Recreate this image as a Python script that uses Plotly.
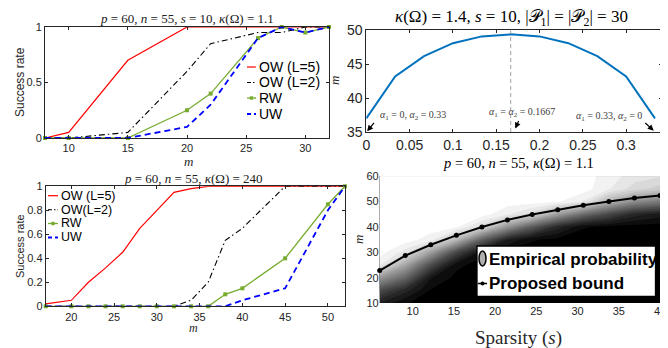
import plotly.graph_objects as go

W, H = 668, 348
def px(x): return x / W
def py(y): return 1 - y / H

# ---------------- data ----------------
# Panel 1: p=60, n=55, s=10, kappa=1.1
m1 = [8, 10, 15, 20, 22, 26, 28, 30, 32]
ow5_1 = [0, 0.05, 0.7, 1, 1, 1, 1, 1, 1]
ow2_1 = [0, 0, 0.05, 0.6, 0.85, 0.95, 0.95, 1, 1]
rw_1 = [0, 0, 0, 0.25, 0.4, 0.9, 1, 0.95, 1]
uw_1 = [0, 0, 0, 0.1, 0.3, 0.9, 1, 0.95, 1]

# Panel 2: kappa=1.4, s=10, |P1|=|P2|=30
alpha1 = [0, 0.0333, 0.0667, 0.1, 0.1333, 0.1667, 0.2, 0.2333, 0.2667, 0.3, 0.3333]
m_needed = [37, 43.2, 46.2, 48.1, 49.1, 49.4, 49.1, 48.1, 46.2, 43.2, 37]
alpha_mid = 0.1667

# Panel 3: p=60, n=55, kappa=240
m3 = [17, 20, 22, 24, 26, 28, 30, 32, 34, 36, 38, 40, 45, 50, 52]
ow5_3 = [0.02, 0.05, 0.2, 0.32, 0.45, 0.65, 0.8, 0.95, 0.98, 1, 1, 1, 1, 1, 1]
ow2_3 = [0, 0, 0, 0, 0, 0, 0, 0, 0.05, 0.2, 0.55, 0.65, 1, 1, 1]
rw_3 = [0, 0, 0, 0, 0, 0, 0, 0, 0, 0, 0.1, 0.15, 0.4, 0.85, 1]
uw_3 = [0, 0, 0, 0, 0, 0, 0, 0, 0, 0, 0, 0.05, 0.15, 0.8, 1]

# Panel 4: empirical probability (rows: m, cols: s) and proposed bound
s4 = [6, 9.1, 12.2, 15.3, 18.4, 21.5, 24.5, 27.6, 30.7, 33.8, 36.9, 40]
m4 = [10, 15, 20, 25, 30, 35, 40, 45, 50, 55, 60]
prob = [
    [0.12, 0.03, 0.00, 0.00, 0.00, 0.00, 0.00, 0.00, 0.00, 0.00, 0.00, 0.00],
    [0.30, 0.15, 0.02, 0.00, 0.00, 0.00, 0.00, 0.00, 0.00, 0.00, 0.00, 0.00],
    [0.60, 0.40, 0.08, 0.01, 0.00, 0.00, 0.00, 0.00, 0.00, 0.00, 0.00, 0.00],
    [0.93, 0.65, 0.30, 0.04, 0.00, 0.00, 0.00, 0.00, 0.00, 0.00, 0.00, 0.00],
    [1.00, 0.90, 0.62, 0.28, 0.05, 0.01, 0.00, 0.00, 0.00, 0.00, 0.00, 0.00],
    [1.00, 1.00, 0.95, 0.72, 0.38, 0.12, 0.03, 0.01, 0.00, 0.00, 0.00, 0.00],
    [1.00, 1.00, 1.00, 0.98, 0.85, 0.58, 0.35, 0.15, 0.03, 0.01, 0.00, 0.00],
    [1.00, 1.00, 1.00, 1.00, 1.00, 0.93, 0.85, 0.62, 0.42, 0.28, 0.15, 0.10],
    [1.00, 1.00, 1.00, 1.00, 1.00, 1.00, 1.00, 0.98, 0.92, 0.70, 0.55, 0.48],
    [1.00, 1.00, 1.00, 1.00, 1.00, 1.00, 1.00, 1.00, 1.00, 0.93, 0.85, 0.80],
    [1.00, 1.00, 1.00, 1.00, 1.00, 1.00, 1.00, 1.00, 1.00, 0.95, 0.90, 0.88],
]
bound_s = [6, 9.1, 12.2, 15.3, 18.4, 21.5, 24.5, 27.6, 30.7, 33.8, 36.9, 40]
bound_m = [22.8, 28.7, 33.0, 36.7, 40.0, 42.8, 44.9, 46.8, 48.6, 50.1, 51.4, 52.4]

# ---------------- styles ----------------
RED = "#FF0000"
BLK = "#000000"
GRN = "#77AC30"
BLU = "#0000FF"
MBLUE = "#0072BD"
AX = "#262626"
SANS = "Liberation Sans, Arial, sans-serif"
SERIF = "Liberation Serif, Times New Roman, serif"
DASHDOT = "6px,3px,1.5px,3px"
DASH = "6px,4px"

fig = go.Figure()

def add_panel_lines(xv, a, b, c, d, xa, ya):
    fig.add_trace(go.Scatter(x=xv, y=a, mode="lines", line=dict(color=RED, width=1.2),
                             xaxis=xa, yaxis=ya, showlegend=False, cliponaxis=False))
    fig.add_trace(go.Scatter(x=xv, y=b, mode="lines", line=dict(color=BLK, width=1.1, dash=DASHDOT),
                             xaxis=xa, yaxis=ya, showlegend=False, cliponaxis=False))
    fig.add_trace(go.Scatter(x=xv, y=c, mode="lines+markers", line=dict(color=GRN, width=1.3),
                             marker=dict(symbol="square", size=4, color=GRN),
                             xaxis=xa, yaxis=ya, showlegend=False, cliponaxis=False))
    fig.add_trace(go.Scatter(x=xv, y=d, mode="lines", line=dict(color=BLU, width=1.8, dash=DASH),
                             xaxis=xa, yaxis=ya, showlegend=False, cliponaxis=False))

add_panel_lines(m1, ow5_1, ow2_1, rw_1, uw_1, "x", "y")
fig.add_trace(go.Scatter(x=alpha1, y=m_needed, mode="lines", line=dict(color=MBLUE, width=2),
                         xaxis="x2", yaxis="y2", showlegend=False))
add_panel_lines(m3, ow5_3, ow2_3, rw_3, uw_3, "x3", "y3")

fig.add_trace(go.Contour(x=s4, y=m4, z=prob, zmin=0, zmax=1,
                         contours=dict(coloring="fill", start=0.025, end=0.975, size=0.05,
                                       showlines=False),
                         line=dict(width=0), line_smoothing=0,
                         colorscale=[[0, "#000000"], [1, "#FFFFFF"]],
                         xaxis="x4", yaxis="y4",
                         colorbar=dict(x=px(654), xanchor="left", xpad=0, ypad=0,
                                       y=py(231.5), yanchor="middle", len=133 / H,
                                       thickness=8, outlinecolor=AX, outlinewidth=1,
                                       tickvals=[0, 0.2, 0.4, 0.6, 0.8, 1],
                                       ticks="", tickfont=dict(family=SANS, size=11, color=AX))))
fig.add_trace(go.Scatter(x=bound_s, y=bound_m, mode="lines+markers",
                         line=dict(color=BLK, width=2), marker=dict(size=5, color=BLK),
                         xaxis="x4", yaxis="y4", showlegend=False, cliponaxis=False))

# vertical dashed line at alpha1 = alpha2
fig.add_shape(type="line", xref="x2", yref="y2", x0=alpha_mid, x1=alpha_mid, y0=35, y1=50,
              line=dict(color="#A0A0A0", width=1, dash="4px,3px"))

def axstyle(dom, rng, tickvals=None, size=11, anchor=None, box=True):
    d = dict(domain=dom, range=rng, showgrid=False, zeroline=False, automargin=False,
             tickfont=dict(family=SANS, size=size, color=AX), ticklen=3,
             tickcolor=AX)
    if box:
        d.update(showline=True, linecolor=AX, linewidth=1, mirror="ticks", ticks="inside")
    else:
        d.update(showline=False, ticks="")
    if tickvals is not None:
        d["tickvals"] = tickvals
    if anchor:
        d["anchor"] = anchor
    return d

fig.update_layout(
    width=W, height=H, margin=dict(l=0, r=0, t=0, b=0, autoexpand=False),
    paper_bgcolor="white", plot_bgcolor="white", showlegend=False,
    xaxis=axstyle([px(37), px(321)], [8, 32], tickvals=[10, 15, 20, 25, 30], anchor="y"),
    yaxis=axstyle([py(130), py(19)], [0, 1], tickvals=[0, 0.5, 1], anchor="x"),
    xaxis2=axstyle([px(358.3), px(654)], [0, 0.3414],
                   tickvals=[0, 0.05, 0.1, 0.15, 0.2, 0.25, 0.3], size=14, anchor="y2"),
    yaxis2=axstyle([py(124), py(22.3)], [35, 50], tickvals=[35, 40, 45, 50], size=14, anchor="x2"),
    xaxis3=axstyle([px(37.7), px(337)], [17, 52], tickvals=[20, 25, 30, 35, 40, 45, 50], anchor="y3"),
    yaxis3=axstyle([py(298.3), py(178.3)], [0, 1], tickvals=[0, 0.2, 0.4, 0.6, 0.8, 1], anchor="x3"),
    xaxis4=axstyle([px(371.7), px(652)], [6, 40], tickvals=[10, 15, 20, 25, 30, 35, 40], size=11,
                   anchor="y4", box=False),
    yaxis4=axstyle([py(295), py(168.3)], [10, 60], tickvals=[10, 20, 30, 40, 50, 60], size=11,
                   anchor="x4", box=False),
)

ann = []
def text(x, y, t, size, family=SERIF, color="#000000", angle=0, xanchor="center"):
    ann.append(dict(x=px(x), y=py(y), xref="paper", yref="paper", text=t, showarrow=False,
                    font=dict(family=family, size=size, color=color), textangle=angle,
                    xanchor=xanchor, yanchor="middle"))

# titles
text(179, 10, "<i>p</i> = 60, <i>n</i> = 55, <i>s</i> = 10, <i>κ</i>(Ω) = 1.1", 13, color="#202020")
text(504, 10, "<i>κ</i>(Ω) = 1.4, <i>s</i> = 10, |𝒫<sub>1</sub>| = |𝒫<sub>2</sub>| = 30", 17)
text(185, 170, "<i>p</i> = 60, <i>n</i> = 55, <i>κ</i>(Ω) = 240", 13, color="#202020")
text(511, 155, "<i>p</i> = 60, <i>n</i> = 55, <i>κ</i>(Ω) = 1.1", 14.5)

# axis labels
text(12, 74, "Success rate", 12, family=SANS, color=AX, angle=-90)
text(12, 238, "Success rate", 11, family=SANS, color=AX, angle=-90)
text(180, 153, "<i>m</i>", 13, color=AX)
text(185, 319.5, "<i>m</i>", 12, color=AX)
text(326, 73, "<i>m</i>", 13, color=AX, angle=-90)
text(350, 232, "<i>m</i>", 13, color=AX, angle=-90)
text(511, 330, "Sparsity (<i>s</i>)", 19, color=AX)

# panel 2 annotations
text(370, 108, "<i>α</i><sub>1</sub> = 0, <i>α</i><sub>2</sub> = 0.33", 10, color="#404040", xanchor="left")
text(513.5, 104, "<i>α</i><sub>1</sub> = <i>α</i><sub>2</sub> = 0.1667", 10, color="#404040")
text(600.7, 108.3, "<i>α</i><sub>1</sub> = 0.33, <i>α</i><sub>2</sub> = 0", 10, color="#404040")
for hx, hy, ax_, ay_ in [(0.001, 35.1, 8, -10), (0.172, 35.5, 4, -9), (0.3319, 35.2, -10, -9)]:
    ann.append(dict(x=hx, y=hy, xref="x2", yref="y2", ax=ax_, ay=ay_, axref="pixel", ayref="pixel",
                    text="", showarrow=True, arrowhead=2, arrowsize=1, arrowwidth=1.2,
                    arrowcolor="#000000"))

# manual legends for panels 1 and 3
def legend(x0, x1, ys, labels, size):
    styles = [(RED, 1.2, "solid", False), (BLK, 1.1, "4px,2px,1.5px,2px", False),
              (GRN, 1.3, "solid", True), (BLU, 2.2, "4px,3px", False)]
    for yy, lab, (col, w, dsh, mk) in zip(ys, labels, styles):
        fig.add_shape(type="line", xref="paper", yref="paper", x0=px(x0), x1=px(x1), y0=py(yy), y1=py(yy),
                      line=dict(color=col, width=w, dash=dsh))
        if mk:
            xc = (x0 + x1) / 2
            fig.add_shape(type="rect", xref="paper", yref="paper", x0=px(xc - 1.7), x1=px(xc + 1.7),
                          y0=py(yy + 1.7), y1=py(yy - 1.7), fillcolor=col, line=dict(width=0))
        text(x1 + 1, yy, lab, size, family=SANS, color="#000000", xanchor="left")

legend(239, 248, [59, 74.5, 90, 106], ["OW (L=5)", "OW (L=2)", "RW", "UW"], 14)
legend(40, 50, [187.7, 201.7, 215.5, 229.5], ["OW (L=5)", "OW(L=2)", "RW", "UW"], 12.5)

# manual legend for panel 4
fig.add_shape(type="rect", xref="paper", yref="paper", x0=px(469), x1=px(647.5), y0=py(288.5), y1=py(238),
              fillcolor="white", line=dict(color="#000000", width=1.3))
fig.add_shape(type="circle", xref="paper", yref="paper", x0=px(471), x1=px(478), y0=py(258), y1=py(243),
              fillcolor="#B0B0B0", line=dict(color="#000000", width=1.5))
fig.add_shape(type="line", xref="paper", yref="paper", x0=px(470), x1=px(479), y0=py(275.5), y1=py(275.5),
              line=dict(color="#000000", width=1.5))
fig.add_shape(type="circle", xref="paper", yref="paper", x0=px(472.5), x1=px(476.5), y0=py(277.5), y1=py(273.5),
              fillcolor="#000000", line=dict(width=0))
text(479, 251, "<b>Empirical probability</b>", 17, family=SANS, xanchor="left")
text(479, 275.5, "<b>Proposed bound</b>", 17, family=SANS, xanchor="left")

fig.update_layout(annotations=ann)
fig.write_html("out.html")
